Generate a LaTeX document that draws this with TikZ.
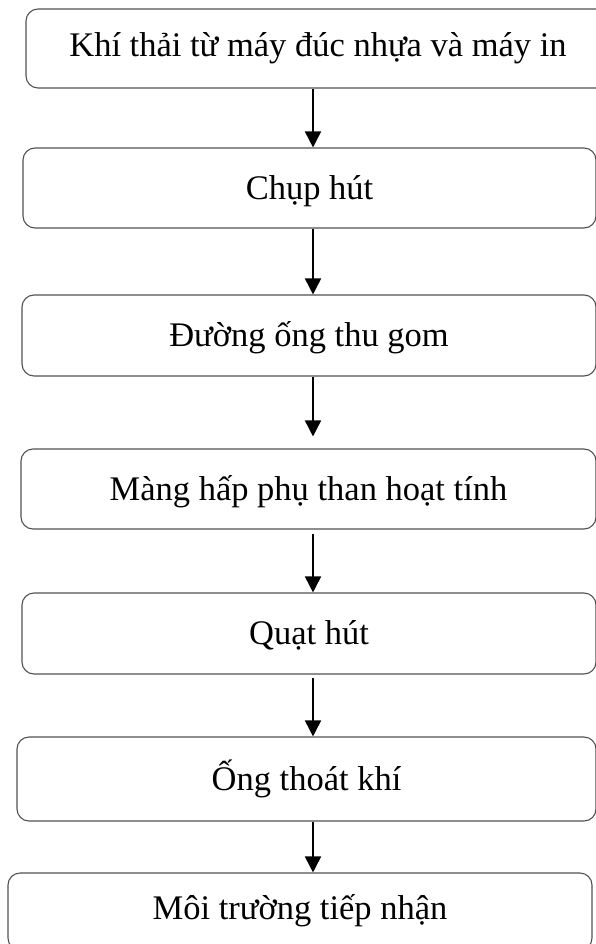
\documentclass[tikz,border=0pt]{standalone}
\usepackage{fontspec}
\setmainfont{Liberation Serif}
\usetikzlibrary{arrows.meta}

\tikzset{
  stepbox/.style={draw=black!68, line width=1.1pt, rounded corners=12pt,
    inner sep=0pt, font=\fontsize{34.5}{40}\selectfont,
    text height=23pt, text depth=1pt, align=center},
  flow/.style={line width=1.7pt, draw=black,
    -{Triangle[width=16pt,length=16pt]}}
}

\begin{document}
\begin{tikzpicture}[x=1pt,y=-1pt]
  \useasboundingbox (0,0) rectangle (596,944);
  \clip (0,0) rectangle (596,944);

  % process steps, top to bottom
  \node[stepbox, minimum width=584pt, minimum height=79pt, text depth=7pt]
    (b1) at (318,48.5) {Khí thải từ máy đúc nhựa và máy in};
  \node[stepbox, minimum width=573pt, minimum height=80pt] (b2) at (309.5,188)
    {Chụp hút};
  \node[stepbox, minimum width=574pt, minimum height=81pt] (b3) at (309,335.5)
    {Đường ống thu gom};
  \node[stepbox, minimum width=575pt, minimum height=80pt] (b4) at (308.5,489)
    {Màng hấp phụ than hoạt tính};
  \node[stepbox, minimum width=574pt, minimum height=81pt] (b5) at (309,633.5)
    {Quạt hút};
  \node[stepbox, minimum width=579pt, minimum height=84pt] (b6) at (306.5,779)
    {Ống thoát khí};
  \node[stepbox, minimum width=584pt, minimum height=77pt, text depth=8pt]
    (b7) at (300,911.5) {Môi trường tiếp nhận};

  % flow arrows along one vertical axis
  \coordinate (ax) at (313,0);
  \draw[flow] (b1.south -| ax) -- (b2.north -| ax);
  \draw[flow] (b2.south -| ax) -- (b3.north -| ax);
  \draw[flow, shorten >=12pt] (b3.south -| ax) -- (b4.north -| ax);
  \draw[flow, shorten <=4pt] (b4.south -| ax) -- (b5.north -| ax);
  \draw[flow, shorten <=3pt] (b5.south -| ax) -- (b6.north -| ax);
  \draw[flow] (b6.south -| ax) -- (b7.north -| ax);
\end{tikzpicture}
\end{document}
